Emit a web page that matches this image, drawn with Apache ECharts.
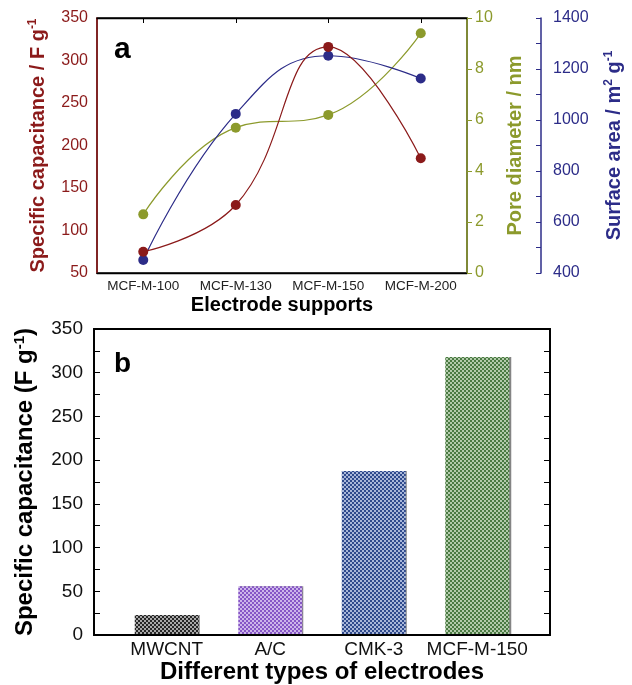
<!DOCTYPE html>
<html>
<head>
<meta charset="utf-8">
<script src="https://cdn.jsdelivr.net/npm/echarts@6/dist/echarts.min.js"></script>
<style>html,body{margin:0;padding:0;background:#fff}#c{width:632px;height:685px}</style>
</head>
<body>
<div id="c"></div>
<script>
// ---- Panel a data ----
var supports = ['MCF-M-100', 'MCF-M-130', 'MCF-M-150', 'MCF-M-200'];
var capacitanceA = [75, 130, 316, 185];
var poreDiameter = [2.3, 5.7, 6.2, 9.4];
var surfaceArea = [451, 1024, 1252, 1163];
// ---- Panel b data ----
var electrodes = ['MWCNT', 'A/C', 'CMK-3', 'MCF-M-150'];
var capacitanceB = [22, 55, 187, 318];

var RED = '#8b1a1a', OLIVE = '#8c9a2c', BLUE = '#2c2c88';
var FONT = 'Liberation Sans, Arial, sans-serif';

function pattern(dark, light) {
  var c = document.createElement('canvas');
  c.width = 4; c.height = 4;
  var g = c.getContext('2d');
  g.fillStyle = dark; g.fillRect(0, 0, 4, 4);
  g.fillStyle = light; g.fillRect(0, 0, 2, 2); g.fillRect(2, 2, 2, 2);
  return { image: c, repeat: 'repeat' };
}
var barFills = [
  pattern('#262626', '#a8a8a8'),
  pattern('#8656c6', '#cdb5ea'),
  pattern('#2f4a8c', '#a9b7d9'),
  pattern('#4a7a42', '#b3cbab')
];

var supSty = { fontSize: 12, verticalAlign: 'top', fontWeight: 'bold', lineHeight: 14 };
var plain = function (v) { return String(v); };

var chart = echarts.init(document.getElementById('c'), null, { renderer: 'canvas' });
chart.setOption({
  backgroundColor: '#fff',
  textStyle: { fontFamily: FONT },
  animation: false,
  grid: [
    { left: 97, right: 156, top: 18, height: 255, show: true, borderColor: '#000', borderWidth: 1.3, backgroundColor: 'transparent' },
    { left: 94, right: 82, top: 329, height: 306, show: true, borderColor: '#000', borderWidth: 1.8, backgroundColor: 'transparent' },
    { left: 115, right: 103, top: 329, height: 306 }
  ],
  xAxis: [
    { gridIndex: 0, type: 'category', data: supports, boundaryGap: true, position: 'bottom',
      axisLine: { show: true, lineStyle: { color: '#000', width: 1.3 } }, axisTick: { show: false },
      axisLabel: { interval: 0, color: '#222', fontSize: 13.5, margin: 6, fontFamily: FONT },
      name: 'Electrode supports', nameLocation: 'middle', nameGap: 22,
      nameTextStyle: { color: '#000', fontSize: 20, fontWeight: 'bold', fontFamily: FONT } },
    { gridIndex: 0, type: 'category', data: supports, boundaryGap: true, position: 'top',
      axisLine: { show: true, lineStyle: { color: '#000', width: 1.3 } },
      axisTick: { show: true, inside: true, alignWithLabel: true, length: 5, lineStyle: { color: '#000' } },
      axisLabel: { show: false } },
    { gridIndex: 1, type: 'value', min: 0, max: 1, show: false },
    { gridIndex: 2, type: 'category', data: electrodes, boundaryGap: true,
      axisLine: { show: false }, axisTick: { show: false },
      axisLabel: { interval: 0, color: '#111', fontSize: 19, margin: 6, fontFamily: FONT },
      name: 'Different types of electrodes', nameLocation: 'middle', nameGap: 22,
      nameTextStyle: { color: '#000', fontSize: 24, fontWeight: 'bold', fontFamily: FONT } }
  ],
  yAxis: [
    { gridIndex: 0, type: 'value', min: 50, max: 350, interval: 50, position: 'left',
      axisLine: { show: true, lineStyle: { color: RED, width: 1.6 } }, axisTick: { show: false },
      splitLine: { show: false },
      axisLabel: { color: RED, fontSize: 16, margin: 9, fontFamily: FONT, formatter: plain },
      name: '{m|Specific capacitance / F g}{s|-1}', nameLocation: 'middle', nameGap: 48, nameRotate: 90,
      nameTextStyle: { color: RED, fontSize: 20, fontWeight: 'bold', fontFamily: FONT,
        rich: { m: { fontSize: 20, fontWeight: 'bold', color: RED, lineHeight: 22 }, s: Object.assign({ color: RED }, supSty) } } },
    { gridIndex: 0, type: 'value', min: 0, max: 10, interval: 2, position: 'right',
      axisLine: { show: true, lineStyle: { color: OLIVE, width: 1.5 } },
      axisTick: { show: true, inside: false, length: 5, lineStyle: { color: OLIVE } },
      splitLine: { show: false },
      axisLabel: { color: OLIVE, fontSize: 16, margin: 8, fontFamily: FONT, formatter: plain },
      name: 'Pore diameter / nm', nameLocation: 'middle', nameGap: 38, nameRotate: 90,
      nameTextStyle: { color: OLIVE, fontSize: 20, fontWeight: 'bold', fontFamily: FONT } },
    { gridIndex: 0, type: 'value', min: 400, max: 1400, interval: 200, position: 'right', offset: 74,
      axisLine: { show: true, lineStyle: { color: BLUE, width: 1.5 } },
      axisTick: { show: true, inside: true, length: 5, lineStyle: { color: BLUE } },
      minorTick: { show: true, splitNumber: 2, length: 5, lineStyle: { color: BLUE } },
      splitLine: { show: false },
      axisLabel: { color: BLUE, fontSize: 16, margin: 12, fontFamily: FONT, formatter: plain },
      name: '{m|Surface area / m}{s|2}{m| g}{s|-1}', nameLocation: 'middle', nameGap: 62, nameRotate: 90,
      nameTextStyle: { color: BLUE, fontSize: 20, fontWeight: 'bold', fontFamily: FONT,
        rich: { m: { fontSize: 20, fontWeight: 'bold', color: BLUE, lineHeight: 22 }, s: Object.assign({ color: BLUE }, supSty) } } },
    { gridIndex: 1, type: 'value', min: 0, max: 350, interval: 50, position: 'left',
      axisLine: { show: true, lineStyle: { color: '#000', width: 1.8 } },
      axisTick: { show: true, inside: true, length: 6, lineStyle: { color: '#000' } },
      minorTick: { show: true, splitNumber: 2, length: 6, lineStyle: { color: '#000' } },
      splitLine: { show: false },
      axisLabel: { color: '#111', fontSize: 19, margin: 11, fontFamily: FONT, formatter: plain },
      name: '{m|Specific capacitance (F g}{s|-1}{m|)}', nameLocation: 'middle', nameGap: 56, nameRotate: 90,
      nameTextStyle: { color: '#000', fontSize: 24, fontWeight: 'bold', fontFamily: FONT,
        rich: { m: { fontSize: 24, fontWeight: 'bold', color: '#000', lineHeight: 26 }, s: { fontSize: 15, fontWeight: 'bold', color: '#000', verticalAlign: 'top', lineHeight: 16 } } } },
    { gridIndex: 1, type: 'value', min: 0, max: 350, interval: 50, position: 'right',
      axisLine: { show: true, lineStyle: { color: '#000', width: 1.8 } },
      axisTick: { show: true, inside: true, length: 6, lineStyle: { color: '#000' } },
      minorTick: { show: true, splitNumber: 2, length: 6, lineStyle: { color: '#000' } },
      splitLine: { show: false }, axisLabel: { show: false } },
    { gridIndex: 2, type: 'value', min: 0, max: 350, show: false }
  ],
  series: [
    { type: 'line', name: 'Specific capacitance', xAxisIndex: 0, yAxisIndex: 0, data: capacitanceA, smooth: 0.45,
      symbol: 'circle', symbolSize: 10, lineStyle: { color: RED, width: 1.2 }, itemStyle: { color: RED }, z: 5 },
    { type: 'line', name: 'Pore diameter', xAxisIndex: 0, yAxisIndex: 1, data: poreDiameter, smooth: 0.45,
      symbol: 'circle', symbolSize: 10, lineStyle: { color: OLIVE, width: 1.2 }, itemStyle: { color: OLIVE }, z: 4 },
    { type: 'line', name: 'Surface area', xAxisIndex: 0, yAxisIndex: 2, data: surfaceArea, smooth: 0.45,
      symbol: 'circle', symbolSize: 10, lineStyle: { color: BLUE, width: 1.2 }, itemStyle: { color: BLUE }, z: 4 },
    { type: 'bar', name: 'Specific capacitance (b)', xAxisIndex: 3, yAxisIndex: 5, barWidth: 64,
      data: capacitanceB.map(function (v, i) {
        return { value: v, itemStyle: { color: barFills[i], shadowColor: 'rgba(80,80,80,0.7)', shadowOffsetX: i === 3 ? 2 : 1, shadowBlur: 0 } };
      }) }
  ],
  graphic: [
    { type: 'text', left: 114, top: 35, style: { text: 'a', font: 'bold 30px ' + FONT, fill: '#000' } },
    { type: 'text', left: 114, top: 350, style: { text: 'b', font: 'bold 28px ' + FONT, fill: '#000' } }
  ]
});
</script>
</body>
</html>
